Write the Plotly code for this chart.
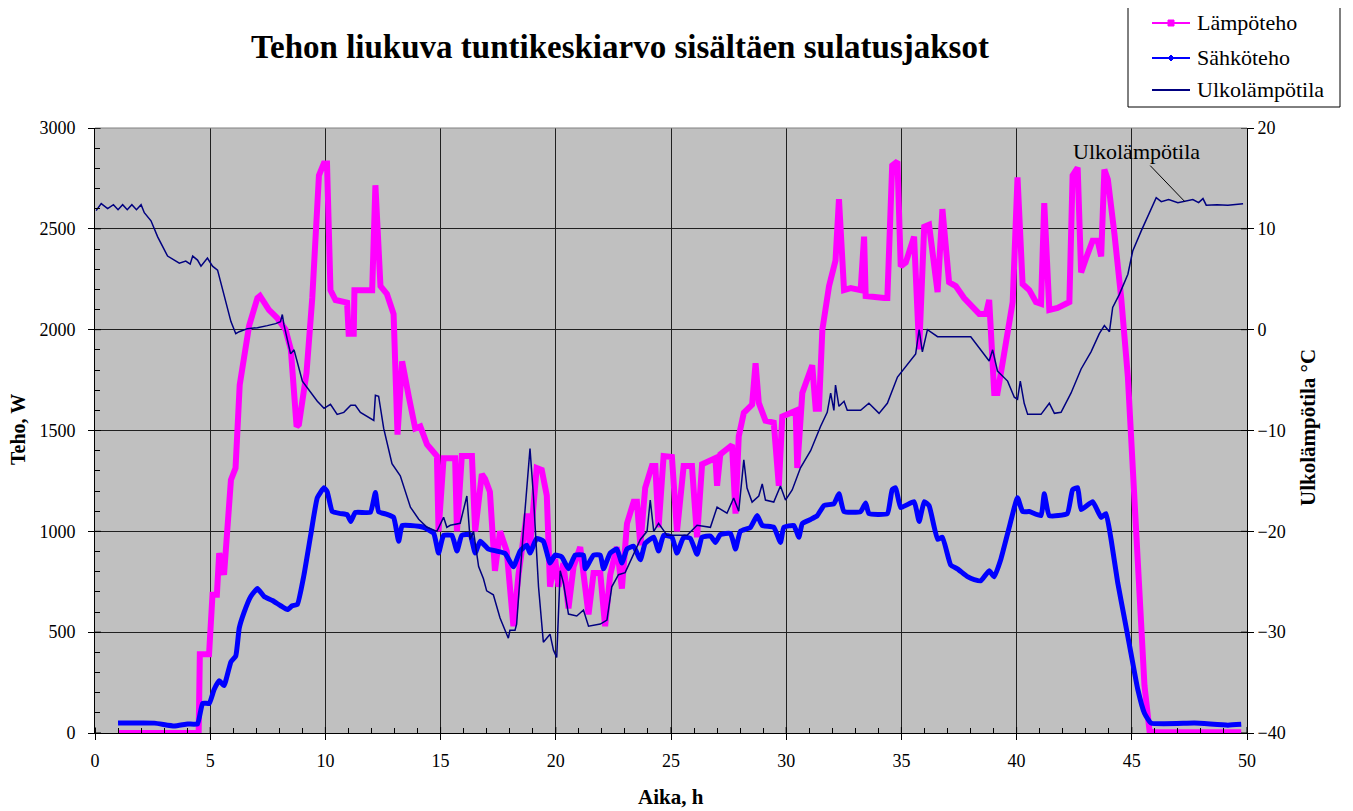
import plotly.graph_objects as go

# ---------------- data ----------------
lampo_x = [1.0, 4.5, 4.55, 4.95, 5.1, 5.29, 5.39, 5.6, 5.9, 6.1, 6.28, 6.5, 6.69, 7.05, 7.16,
           7.55, 7.9, 8.27, 8.5, 8.75, 8.85, 9.18, 9.43, 9.72, 9.93, 10.07, 10.22, 10.44, 10.94,
           11.01, 11.23, 11.26, 12.03, 12.17, 12.39, 12.67, 12.96, 13.13, 13.33, 13.62, 13.9,
           14.12, 14.41, 14.7, 14.84, 14.91, 15.13, 15.63, 15.71, 15.92, 16.36, 16.5, 16.79,
           16.93, 17.14, 17.36, 17.58, 17.87, 18.16, 18.38, 18.74, 18.88, 19.17, 19.39, 19.61,
           19.75, 19.97, 20.12, 20.33, 20.55, 20.77, 21.06, 21.2, 21.42, 21.64, 21.93, 22.14,
           22.36, 22.65, 22.87, 23.09, 23.38, 23.52, 23.67, 23.88, 24.17, 24.32, 24.46, 24.68,
           25.04, 25.26, 25.55, 25.91, 26.13, 26.35, 26.71, 26.93, 27.0, 27.14, 27.65, 27.8,
           27.94, 28.16, 28.52, 28.67, 28.81, 29.1, 29.46, 29.68, 29.83, 30.41, 30.48, 30.7,
           31.13, 31.28, 31.42, 31.57, 31.86, 32.14, 32.29, 32.51, 32.8, 33.23, 33.38, 33.45,
           34.25, 34.39, 34.6, 34.83, 34.97, 35.19, 35.55, 35.77, 35.99, 36.2, 36.57, 36.78,
           37.07, 37.36, 37.72, 38.09, 38.38, 38.67, 38.81, 39.03, 39.17, 39.46, 39.83, 40.04,
           40.26, 40.55, 40.84, 41.06, 41.2, 41.42, 41.78, 42.29, 42.43, 42.65, 42.8, 43.01,
           43.3, 43.52, 43.67, 43.81, 43.96, 44.25, 44.54, 44.83, 44.97, 45.12, 45.33, 45.55,
           45.77, 45.99, 49.75]
lampo_w = [0, 0, 390, 390, 686, 686, 892, 784, 1255, 1314, 1725, 1902, 2020, 2157, 2167,
           2098, 2059, 2000, 1902, 1520, 1530, 1785, 2157, 2765, 2824, 2824, 2196, 2147, 2134,
           1980, 1980, 2196, 2196, 2716, 2216, 2177, 2078, 1480, 1843, 1667, 1510,
           1520, 1431, 1392, 1373, 1000, 1363, 1363, 1000, 1373, 1373, 1000, 1284,
           1260, 1196, 804, 1000, 902, 529, 784, 1088, 922, 1314, 1304, 1177,
           726, 863, 726, 843, 618, 824, 922, 804, 588, 794, 794, 529,
           784, 922, 716, 1039, 1147, 1147, 931, 1216, 1324, 1324, 1020, 1373,
           1369, 1000, 1324, 1324, 971, 1333, 1353, 1363, 1226, 1382, 1428, 1088,
           1471, 1588, 1628, 1833, 1637, 1549, 1539, 1226, 1569, 1598, 1314, 1686,
           1824, 1608, 1608, 2000, 2216, 2343, 2647, 2196, 2206, 2196, 2461, 2167,
           2157, 2157, 2814, 2834, 2314, 2333, 2461, 1902, 2510, 2520, 2186, 2598,
           2235, 2216, 2157, 2118, 2078, 2078, 2147, 1686, 1686, 1882, 2137, 2755,
           2226, 2196, 2137, 2128, 2628, 2098, 2108, 2137, 2765, 2804, 2284, 2353,
           2441, 2441, 2363, 2794, 2745, 2471, 2157, 1765, 1471, 1078, 588, 235,
           10, 4, 4]

sahko_x = [1.0, 2.58, 3.44, 4.02, 4.45, 4.67, 4.96, 5.17, 5.39, 5.6, 5.9, 6.11, 6.26, 6.47,
           6.76, 7.05, 7.34, 7.7, 8.06, 8.35, 8.56, 8.78, 9.07, 9.36, 9.65, 9.94, 10.08, 10.3,
           10.66, 10.95, 11.1, 11.3, 11.95, 12.17, 12.31, 12.67, 12.96, 13.18, 13.33, 13.69,
           14.26, 14.7, 14.91, 15.13, 15.49, 15.71, 15.92, 16.28, 16.5, 16.72, 17.08, 17.43,
           17.8, 18.16, 18.45, 18.74, 18.88, 19.17, 19.46, 19.75, 19.97, 20.26, 20.55, 20.84,
           21.2, 21.28, 21.64, 21.93, 22.07, 22.36, 22.65, 22.87, 23.09, 23.38, 23.67, 23.88,
           24.25, 24.46, 24.68, 25.04, 25.26, 25.55, 25.84, 26.13, 26.35, 26.71, 26.93, 27.14,
           27.58, 27.8, 28.01, 28.45, 28.74, 28.96, 29.46, 29.75, 29.9, 30.33, 30.55, 30.7,
           31.06, 31.35, 31.64, 32.07, 32.29, 32.51, 33.23, 33.45, 33.59, 34.39, 34.6, 34.75,
           34.97, 35.55, 35.77, 35.99, 36.2, 36.57, 36.78, 37.14, 37.43, 37.87, 38.16, 38.45,
           38.81, 39.03, 39.32, 39.68, 40.04, 40.26, 40.55, 41.06, 41.2, 41.42, 42.2, 42.43,
           42.65, 42.8, 43.3, 43.67, 43.88, 44.1, 44.39, 44.68, 44.97, 45.26, 45.55, 45.84,
           47.72, 49.17, 49.75]
sahko_w = [49, 49, 35, 45, 45, 147, 147, 216, 259, 235, 353, 382, 520, 598,
           677, 716, 677, 657, 631, 612, 631, 637, 784, 980, 1167, 1216, 1196, 1098,
           1088, 1082, 1049, 1094, 1094, 1192, 1098, 1084, 1069, 951, 1029, 1029,
           1020, 990, 892, 980, 980, 902, 980, 984, 892, 951, 912, 902,
           890, 824, 902, 931, 892, 965, 951, 843, 882, 873, 814, 882,
           882, 814, 882, 882, 814, 892, 912, 843, 912, 926, 859, 941,
           971, 902, 980, 971, 892, 971, 965, 886, 971, 977, 945, 984,
           990, 912, 1000, 1020, 1078, 1029, 1020, 945, 1020, 1029, 971, 1039,
           1059, 1078, 1128, 1137, 1186, 1098, 1098, 1141, 1088, 1088, 1206, 1216,
           1118, 1147, 1049, 1147, 1128, 961, 971, 833, 814, 775, 761, 755,
           804, 775, 863, 1020, 1167, 1098, 1098, 1078, 1186, 1078, 1088, 1206,
           1216, 1108, 1147, 1069, 1088, 961, 745, 569, 392, 216, 98, 49,
           49, 39, 43]

ulko_x = [0.05, 0.27, 0.55, 0.8, 1.0, 1.2, 1.4, 1.6, 1.8, 2.0, 2.14, 2.43, 2.72, 3.15, 3.66,
          3.94, 4.13, 4.24, 4.45, 4.6, 4.88, 5.1, 5.32, 5.6, 5.9, 6.11, 6.26, 6.62, 7.05, 7.48,
          7.84, 8.05, 8.13, 8.2, 8.49, 8.64, 9.0, 9.65, 9.94, 10.22, 10.51, 10.8, 11.1, 11.3,
          11.52, 12.1, 12.17, 12.31, 12.53, 12.89, 13.25, 13.69, 14.05, 14.41, 14.84, 15.13,
          15.27, 15.42, 15.85, 16.14, 16.28, 16.43, 16.65, 16.86, 17.0, 17.29, 17.58, 17.94,
          18.01, 18.23, 18.3, 18.59, 18.88, 19.03, 19.25, 19.46, 19.61, 19.75, 19.9, 20.04,
          20.19, 20.33, 20.55, 20.91, 21.2, 21.42, 21.93, 22.22, 22.43, 22.72, 23.01, 23.3,
          23.67, 23.96, 24.1, 24.25, 24.46, 24.83, 25.26, 25.7, 26.13, 26.71, 27.0, 27.43,
          27.72, 27.94, 28.16, 28.3, 28.52, 28.81, 28.96, 29.1, 29.46, 29.75, 29.97, 30.26,
          30.62, 31.06, 31.49, 31.78, 31.93, 32.07, 32.14, 32.29, 32.51, 32.65, 33.23, 33.59,
          34.03, 34.39, 34.83, 34.97, 35.41, 35.62, 35.77, 35.91, 36.13, 36.57, 38.01, 38.45,
          38.81, 38.96, 39.17, 39.61, 39.9, 40.04, 40.16, 40.33, 40.48, 41.06, 41.42, 41.64,
          41.93, 42.36, 42.8, 43.23, 43.59, 43.81, 44.03, 44.17, 44.46, 44.83, 45.04, 45.41,
          45.7, 46.06, 46.28, 46.6, 47.0, 47.43, 47.65, 47.9, 48.09, 48.23, 48.7, 49.17, 49.83]
ulko_t = [11.8, 12.5, 12.0, 12.4, 11.9, 12.4, 11.9, 12.4, 11.9, 12.4, 11.6, 10.8, 9.2, 7.3, 6.6,
          6.8, 6.5, 7.3, 6.9, 6.3, 7.1, 6.3, 5.9, 3.5, 0.8, -0.4, -0.2, 0.1, 0.2, 0.4,
          0.6, 0.8, 1.5, 0.5, -2.4, -2.0, -5.1, -7.1, -7.8, -7.4, -8.4, -8.2, -7.5, -7.5,
          -8.2, -9.0, -6.5, -6.6, -9.8, -13.3, -14.5, -17.6, -18.8, -19.6, -20.0, -18.6,
          -19.6, -19.4, -19.2, -16.5, -20.8, -20.0, -23.5, -24.7, -25.9, -26.3, -28.6, -30.6,
          -29.8, -29.8, -29.2, -20.0, -11.8, -16.5, -25.5, -31.0, -30.6, -30.2, -31.8, -32.5,
          -23.9, -25.1, -28.2, -28.4, -27.8, -29.4, -29.2, -28.8, -25.5, -24.3, -24.1, -22.7,
          -20.8, -20.0, -16.9, -20.0, -19.2, -20.4, -20.4, -20.4, -19.4, -19.6, -17.6, -18.2,
          -16.7, -18.0, -12.9, -15.7, -17.1, -16.5, -15.3, -16.9, -17.1, -15.5, -16.9, -15.9,
          -13.7, -12.0, -9.6, -8.2, -6.3, -8.0, -5.5, -7.6, -7.1, -8.0, -8.0, -7.3,
          -8.3, -7.3, -4.7, -4.3, -3.1, -2.4, 0.0, -2.2, 0.0, -0.7, -0.7, -2.0,
          -3.1, -2.0, -4.1, -5.1, -6.7, -6.9, -5.1, -7.3, -8.4, -8.4, -7.3, -8.3,
          -8.2, -6.3, -3.9, -2.2, -0.4, 0.4, -0.2, 2.2, 3.5, 5.5, 7.8, 9.8,
          11.2, 13.1, 12.7, 12.9, 12.6, 12.8, 12.9, 12.6, 13.0, 12.35, 12.4, 12.35, 12.5]

x_ticks = [0, 5, 10, 15, 20, 25, 30, 35, 40, 45, 50]
w_ticks = [0, 500, 1000, 1500, 2000, 2500, 3000]
t_ticks = [-40, -30, -20, -10, 0, 10, 20]
series_names = ["Lämpöteho", "Sähköteho", "Ulkolämpötila"]

FONT = "Liberation Serif, Times New Roman, serif"
MAGENTA = "#FF00FF"
BLUE = "#0000FF"
NAVY = "#000080"
colors = [MAGENTA, BLUE, NAVY]

# the page body adds an 8 px offset; positions below are page pixels
OFF = 8
FIG_W, FIG_H = 1353, 811
L, R, T, B = 95, 1247, 128, 733
W_PX, H_PX = R - L, B - T


def px_x(px):
    return (px - L) / W_PX


def px_y(py):
    return (B - py) / H_PX


fig = go.Figure()

fig.add_trace(go.Scatter(x=lampo_x, y=lampo_w, mode="lines", name=series_names[0],
                         line=dict(color=MAGENTA, width=6), showlegend=False))
fig.add_trace(go.Scatter(x=sahko_x, y=sahko_w, mode="lines", name=series_names[1],
                         line=dict(color=BLUE, width=5, shape="spline", smoothing=0.4),
                         showlegend=False))
fig.add_trace(go.Scatter(x=ulko_x, y=ulko_t, mode="lines", name=series_names[2],
                         line=dict(color=NAVY, width=1.5), yaxis="y2", showlegend=False))

axis_common = dict(showline=True, linecolor="black", linewidth=1, automargin=False,
                   tickfont=dict(family=FONT, size=18, color="black"),
                   ticks="outside", ticklen=6, tickcolor="black", zeroline=False)

fig.update_layout(
    width=FIG_W, height=FIG_H,
    margin=dict(l=L - OFF, r=FIG_W - (R - OFF), t=T - OFF, b=FIG_H - (B - OFF), autoexpand=False),
    paper_bgcolor="white", plot_bgcolor="#C0C0C0",
    font=dict(family=FONT, color="black"),
    showlegend=False,
    title=dict(text="<b>Tehon liukuva tuntikeskiarvo sisältäen sulatusjaksot</b>",
               font=dict(family=FONT, size=33, color="black"),
               x=(620 - OFF) / FIG_W, xref="container", xanchor="center",
               y=1 - (46 - OFF) / FIG_H, yref="container", yanchor="middle"),
    xaxis=dict(range=[0, 50], tickvals=x_ticks, showgrid=True, gridcolor="#202020", gridwidth=1,
               minor=dict(dtick=1, ticks="inside", ticklen=5, tickcolor="black", showgrid=False),
               ticklabelstandoff=5, **axis_common),
    yaxis=dict(range=[0, 3000], tickvals=w_ticks, showgrid=True, gridcolor="#202020", gridwidth=1,
               minor=dict(dtick=100, ticks="inside", ticklen=5, tickcolor="black", showgrid=False),
               ticklabelstandoff=9, **axis_common),
    yaxis2=dict(range=[-40, 20], tickvals=t_ticks, overlaying="y", side="right",
                showgrid=False, **axis_common),
)

# top border of plot area
fig.add_shape(type="line", xref="paper", yref="paper", x0=0, x1=1, y0=1, y1=1,
              line=dict(color="#808080", width=1))

# inner halves of the crossing major ticks
for v in x_ticks:
    fig.add_shape(type="line", xref="x", yref="paper", ysizemode="pixel", yanchor=0,
                  x0=v, x1=v, y0=0, y1=6, line=dict(color="black", width=1))
for v in w_ticks:
    fig.add_shape(type="line", xref="paper", yref="y", xsizemode="pixel", xanchor=0,
                  x0=0, x1=6, y0=v, y1=v, line=dict(color="black", width=1))
for v in t_ticks:
    fig.add_shape(type="line", xref="paper", yref="y2", xsizemode="pixel", xanchor=1,
                  x0=-6, x1=0, y0=v, y1=v, line=dict(color="black", width=1))

# axis titles
fig.add_annotation(text="<b>Teho, W</b>", xref="paper", yref="paper", x=px_x(18), y=px_y(430),
                   textangle=-90, showarrow=False, font=dict(family=FONT, size=20, color="black"),
                   xanchor="center", yanchor="middle")
fig.add_annotation(text="<b>Ulkolämpötila °C</b>", xref="paper", yref="paper",
                   x=px_x(1308), y=px_y(428), textangle=-90, showarrow=False,
                   font=dict(family=FONT, size=21, color="black"), xanchor="center", yanchor="middle")
fig.add_annotation(text="<b>Aika, h</b>", xref="paper", yref="paper", x=px_x(671),
                   y=px_y(797), showarrow=False,
                   font=dict(family=FONT, size=21, color="black"), xanchor="center", yanchor="middle")

# callout label
fig.add_annotation(text="Ulkolämpötila", x=47.3, y=12.7, xref="x", yref="y2",
                   showarrow=True, arrowhead=0, arrowwidth=1, arrowcolor="black",
                   ax=-48, ay=-50, font=dict(family=FONT, size=22, color="black"))

# ---------------- manual legend ----------------
fig.add_shape(type="rect", xref="paper", yref="paper",
              x0=px_x(1128), x1=px_x(1340), y0=px_y(107), y1=px_y(2),
              line=dict(color="black", width=1), fillcolor="white")
leg_rows = [23, 58, 90]
for name, col, ry in zip(series_names, colors, leg_rows):
    fig.add_shape(type="line", xref="paper", yref="paper",
                  x0=px_x(1152), x1=px_x(1190), y0=px_y(ry), y1=px_y(ry),
                  line=dict(color=col, width=2))
    fig.add_annotation(text=name, xref="paper", yref="paper", x=px_x(1195), y=px_y(ry),
                       xanchor="left", yanchor="middle", showarrow=False,
                       font=dict(family=FONT, size=22, color="black"))
# legend markers
fig.add_shape(type="rect", xref="paper", yref="paper",
              x0=px_x(1168), x1=px_x(1174), y0=px_y(leg_rows[0] + 3), y1=px_y(leg_rows[0] - 3),
              line=dict(color=MAGENTA, width=1), fillcolor=MAGENTA)
cx, cy = 1171, leg_rows[1]
fig.add_shape(type="path", xref="paper", yref="paper",
              path=(f"M {px_x(cx - 3)} {px_y(cy)} L {px_x(cx)} {px_y(cy - 3)} "
                    f"L {px_x(cx + 3)} {px_y(cy)} L {px_x(cx)} {px_y(cy + 3)} Z"),
              line=dict(color=BLUE, width=1), fillcolor=BLUE)

fig.write_html("out.html")
